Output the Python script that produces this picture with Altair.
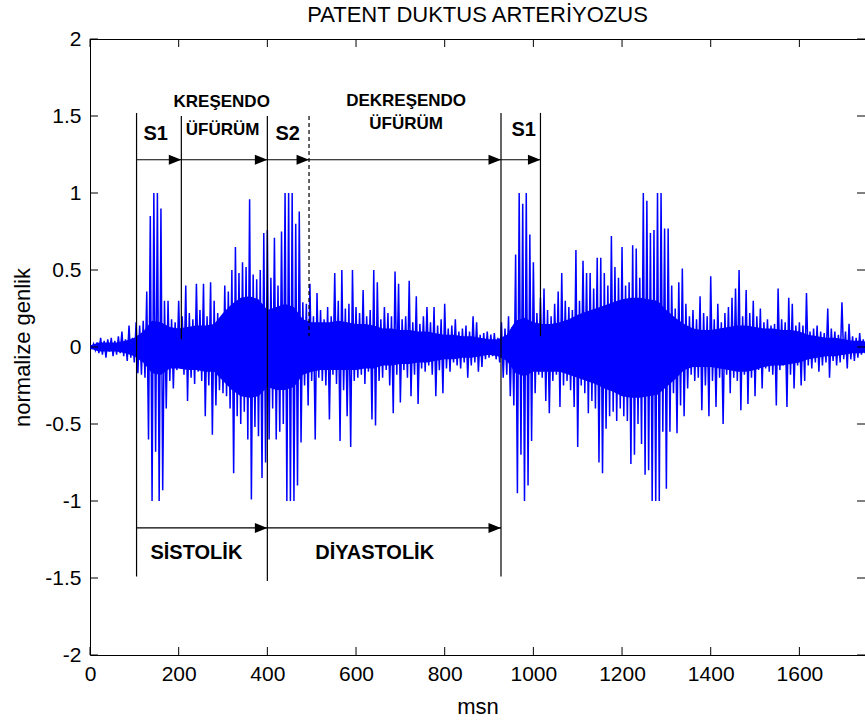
import altair as alt
import pandas as pd

TITLE = "PATENT DUKTUS ARTERİYOZUS"
X_TITLE = "msn"
Y_TITLE = "normalize genlik"
X_TICKS = [0, 200, 400, 600, 800, 1000, 1200, 1400, 1600]
Y_TICKS = [-2, -1.5, -1, -0.5, 0, 0.5, 1, 1.5, 2]
X_MAX = 1748
SAMPLE_MS = 4
CORE_MS = 20

# signal, one list per 100 ms (4 ms per sample)
seg_0000 = [0.00, -0.01, 0.02, -0.02, 0.03, -0.04, 0.06, -0.05, 0.04, -0.07, 0.05, -0.03, 0.06,
            -0.06, 0.04, -0.05, 0.07, -0.04, 0.10, -0.06, 0.05, -0.09, 0.14, -0.07, 0.06]
seg_0100 = [-0.10, 0.16, -0.17, 0.14, -0.18, 0.17, -0.20, 0.36, -0.60, 0.85, -1.0, 1.0, -0.68,
            1.0, -1.0, 0.90, -0.93, 0.30, -0.40, 0.30, -0.22, 0.18, -0.27, 0.16, -0.15]
seg_0200 = [0.30, -0.14, 0.20, -0.18, 0.40, -0.35, 0.22, -0.20, 0.18, -0.24, 0.41, -0.16, 0.24,
            -0.22, 0.41, -0.45, 0.20, -0.25, 0.42, -0.57, 0.30, -0.38, 0.22, -0.28, 0.18]
seg_0300 = [-0.30, 0.40, -0.32, 0.36, -0.40, 0.50, -0.82, 0.65, -0.45, 0.48, -0.50, 0.55, -0.42,
            0.52, -0.60, 0.96, -0.99, 0.47, -0.52, 0.44, -0.58, 0.50, -0.85, 0.74, -0.75]
seg_0400 = [0.76, -0.60, 0.45, -0.40, 0.71, -0.60, 0.40, -0.55, 0.75, -0.50, 1.0, -1.0, 1.0,
            -1.0, 1.0, -1.0, 0.80, -0.90, 0.88, -0.62, 0.29, -0.25, 0.28, -0.38, 0.41]
seg_0500 = [-0.22, 0.20, -0.60, 0.35, -0.20, 0.24, -0.22, 0.18, -0.25, 0.26, -0.47, 0.20, -0.18,
            0.48, -0.24, 0.30, -0.61, 0.50, -0.28, 0.25, -0.45, 0.28, -0.65, 0.50, -0.22]
seg_0600 = [0.26, -0.20, 0.22, -0.18, 0.37, -0.24, 0.20, -0.16, 0.24, -0.47, 0.50, -0.51, 0.42,
            -0.22, 0.18, -0.20, 0.26, -0.15, 0.22, -0.25, 0.20, -0.43, 0.49, -0.18, 0.41]
seg_0700 = [-0.36, 0.18, -0.15, 0.20, -0.20, 0.43, -0.32, 0.16, -0.18, 0.33, -0.37, 0.15, -0.14,
            0.20, -0.16, 0.26, -0.12, 0.16, -0.18, 0.26, -0.32, 0.14, -0.15, 0.18, -0.30]
seg_0800 = [0.28, -0.14, 0.12, -0.16, 0.14, -0.10, 0.18, -0.12, 0.10, -0.14, 0.12, -0.10, 0.14,
            -0.20, 0.10, -0.12, 0.20, -0.10, 0.16, -0.16, 0.08, -0.13, 0.09, -0.08, 0.10]
seg_0900 = [-0.07, 0.08, -0.06, 0.09, -0.08, 0.06, -0.10, 0.16, -0.20, 0.12, -0.18, 0.20, -0.32,
            0.13, -0.38, 0.60, -0.95, 1.0, -0.70, 0.93, -1.0, 1.0, -0.90, 0.73, -0.61]
seg_1000 = [0.55, -0.30, 0.22, -0.18, 0.32, -0.20, 0.38, -0.35, 0.24, -0.43, 0.20, -0.22, 0.28,
            -0.18, 0.36, -0.39, 0.48, -0.25, 0.30, -0.22, 0.26, -0.28, 0.24, -0.39, 0.63]
seg_1100 = [-0.65, 0.30, -0.25, 0.56, -0.30, 0.48, -0.43, 0.48, -0.35, 0.38, -0.40, 0.58, -0.75,
            0.58, -0.82, 0.48, -0.53, 0.40, -0.45, 0.72, -0.42, 0.52, -0.48, 0.45, -0.40]
seg_1200 = [0.65, -0.45, 0.40, -0.48, 0.42, -0.76, 0.66, -0.70, 0.64, -0.50, 0.45, -0.63, 1.0,
            -0.83, 0.95, -0.80, 0.74, -1.0, 0.76, -1.0, 1.0, -1.0, 1.0, -0.55, 0.77]
seg_1300 = [-0.92, 0.77, -0.55, 0.40, -0.30, 0.25, -0.56, 0.42, -0.38, 0.51, -0.45, 0.28, -0.27,
            0.20, -0.18, 0.24, -0.22, 0.18, -0.20, 0.33, -0.41, 0.22, -0.25, 0.20, -0.45]
seg_1400 = [0.46, -0.22, 0.18, -0.39, 0.28, -0.20, 0.16, -0.50, 0.22, -0.18, 0.26, -0.30, 0.32,
            -0.20, 0.38, -0.22, 0.50, -0.41, 0.20, -0.18, 0.37, -0.37, 0.22, -0.20, 0.30]
seg_1500 = [-0.32, 0.20, -0.15, 0.25, -0.27, 0.16, -0.14, 0.18, -0.16, 0.14, -0.18, 0.15, -0.38,
            0.38, -0.15, 0.18, -0.12, 0.16, -0.39, 0.32, -0.18, 0.28, -0.27, 0.14, -0.12]
seg_1600 = [0.16, -0.25, 0.14, -0.22, 0.35, -0.12, 0.10, -0.14, 0.12, -0.10, 0.14, -0.16, 0.10,
            -0.12, 0.09, -0.10, 0.25, -0.20, 0.12, -0.09, 0.10, -0.12, 0.08, -0.10, 0.29]
seg_1700 = [-0.08, 0.10, -0.14, 0.15, -0.08, 0.07, -0.09, 0.06, -0.07, 0.09, -0.05, 0.05, -0.04]

SEGMENTS = [seg_0000, seg_0100, seg_0200, seg_0300, seg_0400, seg_0500, seg_0600, seg_0700,
            seg_0800, seg_0900, seg_1000, seg_1100, seg_1200, seg_1300, seg_1400, seg_1500,
            seg_1600, seg_1700]

# solid (densely sampled) band of the signal, read every 20 ms
CORE_TOP = [0.01, 0.03, 0.03, 0.03, 0.04, 0.06, 0.10, 0.17, 0.16, 0.13,
            0.12, 0.13, 0.14, 0.14, 0.15, 0.22, 0.28, 0.32, 0.33, 0.31,
            0.24, 0.26, 0.28, 0.26, 0.18, 0.16, 0.16, 0.16, 0.17, 0.16,
            0.15, 0.15, 0.14, 0.12, 0.12, 0.11, 0.11, 0.10, 0.10, 0.09,
            0.08, 0.08, 0.07, 0.07, 0.06, 0.05, 0.05, 0.08, 0.17, 0.19,
            0.16, 0.15, 0.15, 0.16, 0.18, 0.21, 0.23, 0.25, 0.27, 0.29,
            0.31, 0.32, 0.32, 0.31, 0.30, 0.24, 0.19, 0.15, 0.12, 0.11,
            0.11, 0.12, 0.13, 0.14, 0.14, 0.13, 0.12, 0.12, 0.11, 0.11,
            0.10, 0.08, 0.07, 0.06, 0.06, 0.05, 0.04, 0.04, 0.03]
CORE_BOTTOM = [-0.01, -0.03, -0.03, -0.03, -0.04, -0.06, -0.10, -0.17, -0.18, -0.14,
               -0.14, -0.15, -0.15, -0.16, -0.16, -0.22, -0.28, -0.32, -0.33, -0.32,
               -0.26, -0.28, -0.28, -0.26, -0.18, -0.16, -0.15, -0.15, -0.15, -0.15,
               -0.15, -0.14, -0.14, -0.12, -0.12, -0.11, -0.11, -0.10, -0.10, -0.09,
               -0.08, -0.08, -0.07, -0.07, -0.06, -0.05, -0.06, -0.09, -0.17, -0.19,
               -0.16, -0.16, -0.16, -0.16, -0.18, -0.20, -0.22, -0.24, -0.27, -0.29,
               -0.32, -0.33, -0.33, -0.32, -0.31, -0.26, -0.21, -0.15, -0.13, -0.13,
               -0.13, -0.14, -0.15, -0.16, -0.16, -0.15, -0.13, -0.12, -0.12, -0.11,
               -0.10, -0.08, -0.07, -0.06, -0.06, -0.05, -0.04, -0.04, -0.03]

# annotation markers (ms, amplitude)
MARK_X = [105, 206, 400, 927, 1016]
MARK_TOP = [1.52, 1.50, 1.50, 1.52, 1.52]
MARK_BOTTOM = [-1.49, 0.05, -1.52, -1.49, 0.07]
DASH_X = [494]
DASH_TOP = [1.50]
DASH_BOTTOM = [0.07]
ARROW_START = [105, 206, 400, 494, 927, 105, 400]
ARROW_END = [206, 400, 494, 927, 1016, 400, 927]
ARROW_Y = [1.216, 1.216, 1.216, 1.216, 1.216, -1.175, -1.175]
LABEL_TEXT = ["S1", "KREŞENDO", "ÜFÜRÜM", "S2", "DEKREŞENDO", "ÜFÜRÜM", "S1", "SİSTOLİK", "DİYASTOLİK"]
LABEL_X = [148, 297, 299, 446, 713, 713, 978, 240, 642]
LABEL_Y = [1.38, 1.59, 1.41, 1.38, 1.60, 1.447, 1.41, -1.34, -1.34]
LABEL_SIZE = [20, 17, 17, 20, 17, 17, 20, 20, 20]

FONT = "Liberation Sans, Arial, Helvetica, sans-serif"
W, H = 775, 616

signal = [v for seg in SEGMENTS for v in seg]
sig_df = pd.DataFrame({"t": [i * SAMPLE_MS for i in range(len(signal))], "v": signal})
core_df = pd.DataFrame({"t": [i * CORE_MS for i in range(len(CORE_TOP))],
                        "v": CORE_TOP, "v2": CORE_BOTTOM})
mark_df = pd.DataFrame({"t": MARK_X, "v": MARK_TOP, "v2": MARK_BOTTOM})
dash_df = pd.DataFrame({"t": DASH_X, "v": DASH_TOP, "v2": DASH_BOTTOM})
arrow_df = pd.DataFrame({"t": ARROW_START, "t2": ARROW_END, "v": ARROW_Y})
label_df = pd.DataFrame({"t": LABEL_X, "v": LABEL_Y, "txt": LABEL_TEXT, "s": LABEL_SIZE})
xtick_df = pd.DataFrame({"t": X_TICKS})
ytick_df = pd.DataFrame({"v": Y_TICKS})

xs = alt.Scale(domain=[0, X_MAX], nice=False, zero=False)
ys = alt.Scale(domain=[-2, 2], nice=False, zero=False)

x_axis = alt.Axis(values=X_TICKS, title=X_TITLE, ticks=False, domain=False, grid=False,
                  format="d", labelFlush=False,
                  labelFont=FONT, labelFontSize=21, labelColor="black", labelPadding=8,
                  titleFont=FONT, titleFontSize=22, titleFontWeight="normal", titleColor="black",
                  titleY=51, titleBaseline="middle")
y_axis = alt.Axis(values=Y_TICKS, title=Y_TITLE, ticks=False, domain=False, grid=False,
                  labelFont=FONT, labelFontSize=21, labelColor="black", labelPadding=9,
                  labelExpr="datum.value < 0 ? '-' + format(-datum.value, '') : format(datum.value, '')",
                  titleFont=FONT, titleFontSize=22, titleFontWeight="normal", titleColor="black",
                  titleX=-68, titleY=H / 2, titleBaseline="middle", titleAlign="center", titleAngle=270)

X = alt.X("t:Q", scale=xs, axis=x_axis)
Y = alt.Y("v:Q", scale=ys, axis=y_axis)

core = alt.Chart(core_df).mark_area(color="#0000FF", opacity=1, clip=True).encode(
    x=X, y=Y, y2="v2:Q")
line = alt.Chart(sig_df).mark_line(color="#0000FF", strokeWidth=1.5, clip=True).encode(x=X, y=Y)

markers = alt.Chart(mark_df).mark_rule(color="black", strokeWidth=1.2).encode(x=X, y=Y, y2="v2:Q")
dashed = alt.Chart(dash_df).mark_rule(color="black", strokeWidth=1.2, strokeDash=[4, 3]).encode(
    x=X, y=Y, y2="v2:Q")
arrows = alt.Chart(arrow_df).mark_rule(color="black", strokeWidth=1.2).encode(x=X, x2="t2:Q", y=Y)
heads = alt.Chart(arrow_df).mark_point(shape="M-2,-0.8L0,0L-2,0.8Z", size=156, filled=True,
                                        color="black", opacity=1, strokeWidth=0).encode(
    x=alt.X("t2:Q", scale=xs, axis=x_axis), y=Y)
labels = alt.Chart(label_df).mark_text(font=FONT, fontWeight="bold", color="black",
                                        align="center", baseline="middle").encode(
    x=X, y=Y, text="txt:N", size=alt.Size("s:Q", scale=None, legend=None))
xt_bottom = alt.Chart(xtick_df).mark_rule(color="black", strokeWidth=1).encode(
    x=X, y=alt.value(H - 8), y2=alt.value(H))
xt_top = alt.Chart(xtick_df).mark_rule(color="black", strokeWidth=1).encode(
    x=X, y=alt.value(0), y2=alt.value(8))
yt_left = alt.Chart(ytick_df).mark_rule(color="black", strokeWidth=1).encode(
    y=Y, x=alt.value(0), x2=alt.value(8))
yt_right = alt.Chart(ytick_df).mark_rule(color="black", strokeWidth=1).encode(
    y=Y, x=alt.value(W - 8), x2=alt.value(W))

chart = alt.layer(core, line, markers, dashed, arrows, heads, labels,
                  xt_bottom, xt_top, yt_left, yt_right).properties(
    width=W, height=H,
    title=alt.TitleParams(TITLE, font=FONT, fontSize=22, fontWeight="normal", color="black",
                          anchor="middle", offset=1),
    padding={"left": 90, "top": 39, "right": 0, "bottom": 66},
    autosize=alt.AutoSizeParams(type="none"),
).configure(background="white").configure_view(stroke="black", strokeWidth=1)

chart.save("out.html", embed_options={"renderer": "svg", "actions": False})
